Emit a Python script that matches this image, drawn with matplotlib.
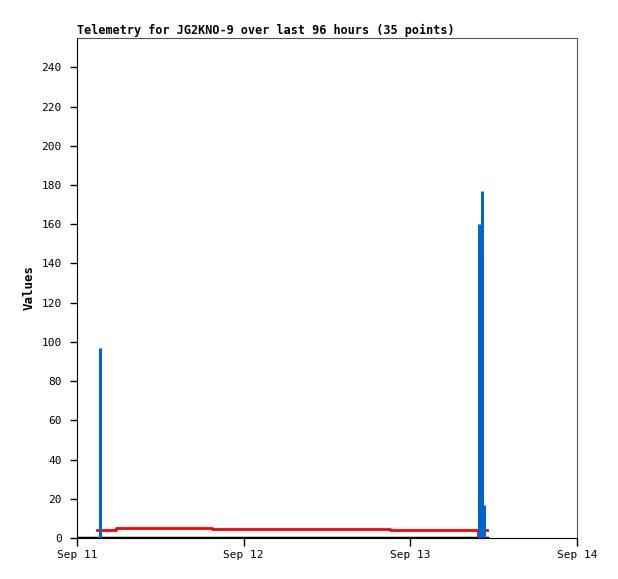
import datetime as dt
import matplotlib
matplotlib.use("Agg")
import matplotlib.pyplot as plt

start = dt.datetime(2024, 9, 11)

# hours after Sep 11 00:00
blue_hours = [3.3, 57.85, 58.25, 58.6]
blue_vals = [97, 160, 177, 17]

red_hours = [2.9, 5.6, 19.4, 45.0, 57.7, 58.1, 59.0]
red_vals = [4, 5, 4.5, 4, 1, 4, 4]

black_hours = [0.0, 59.0]
black_vals = [0, 0]

yticks = list(range(0, 241, 20))
xticks = ["Sep 11", "Sep 12", "Sep 13", "Sep 14"]

def to_dt(hours):
    return [start + dt.timedelta(hours=h) for h in hours]

plt.rcParams['font.family'] = ['DejaVu Sans Mono']
plt.rcParams['font.size'] = 8

fig = plt.figure(figsize=(6.18, 5.79), dpi=100)
ax = fig.add_axes([77 / 618, 41 / 579, 500 / 618, 500 / 579])

ax.plot(to_dt(black_hours), black_vals, color='black', lw=2.5, drawstyle='steps-post')
ax.plot(to_dt(red_hours), red_vals, color='#ff0000', lw=2, drawstyle='steps-post')
ax.vlines(to_dt(blue_hours), 0, blue_vals, color='#0066cc', lw=2.2)

ax.set_xlim(start, start + dt.timedelta(days=3))
ax.set_ylim(0, 255)
ax.set_yticks(yticks)
ax.set_xticks([start + dt.timedelta(days=i) for i in range(4)])
ax.set_xticklabels(xticks)

ax.tick_params(axis='both', direction='out', width=1, colors='black')
ax.tick_params(axis='y', length=5, pad=6)
ax.tick_params(axis='x', length=6, pad=3)
for s in ['top', 'right']:
    ax.spines[s].set_color('#555555')
for s in ['left', 'bottom']:
    ax.spines[s].set_color('black')

ax.set_ylabel('Values', fontweight='bold', fontsize=9)
ax.set_title('Telemetry for JG2KNO-9 over last 96 hours (35 points)',
             loc='left', fontweight='bold', fontsize=8.45, pad=3)

fig.savefig('out.png', dpi=100)
